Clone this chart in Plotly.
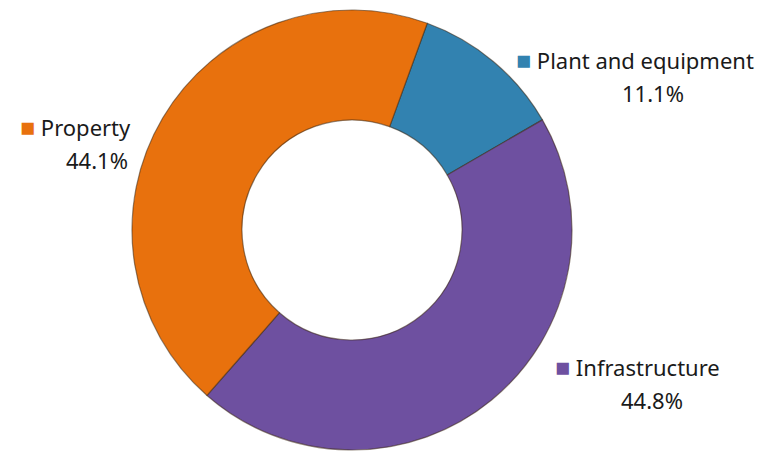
import plotly.graph_objects as go

categories = ["Plant and equipment", "Infrastructure", "Property"]
shares = [11.1, 44.8, 44.1]
colors = ["#3282B0", "#6E50A0", "#E8710D"]

W, H = 768, 455
font_family = "Noto Sans"

fig = go.Figure(go.Pie(
    labels=categories,
    values=shares,
    hole=0.5,
    sort=False,
    direction="clockwise",
    rotation=20,
    textinfo="none",
    hoverinfo="label+percent",
    marker=dict(colors=colors, line=dict(color="rgba(60,40,20,0.55)", width=1.2)),
    domain=dict(x=[124 / W, 564 / W], y=[(H - 442) / H, (H - 2) / H]),
    showlegend=False,
))

# label anchors in pixel space (left of the square marker, line centre y; percent centre x)
label_pos = {
    "Plant and equipment": (506, 51, 645, 85),
    "Infrastructure": (545, 358, 644, 392),
    "Property": (10, 118, 89, 152),
}

for cat, val, col in zip(categories, shares, colors):
    lx, ly, px, py = label_pos[cat]
    fig.add_annotation(
        x=lx / W, y=1 - ly / H, xref="paper", yref="paper",
        xanchor="left", yanchor="middle", showarrow=False,
        text=f"<span style='color:{col};font-size:25px'>■</span> {cat}",
        font=dict(family=font_family, size=22, color="#1a1a1a"),
    )
    fig.add_annotation(
        x=px / W, y=1 - py / H, xref="paper", yref="paper",
        xanchor="center", yanchor="middle", showarrow=False,
        text=f"{val:.1f}%",
        font=dict(family=font_family, size=22, color="#1a1a1a"),
    )

fig.update_layout(
    width=W, height=H,
    margin=dict(l=0, r=0, t=0, b=0),
    paper_bgcolor="white",
    plot_bgcolor="white",
)

fig.write_html("out.html")
